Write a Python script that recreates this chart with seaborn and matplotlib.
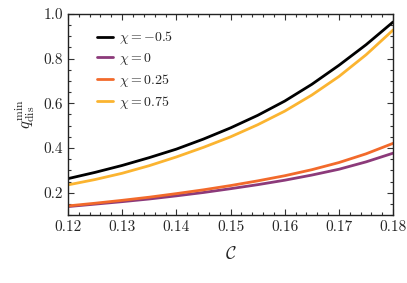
import numpy as np
import pandas as pd
import matplotlib
matplotlib.use("Agg")
import matplotlib.pyplot as plt
import seaborn as sns
from matplotlib.ticker import MultipleLocator

C_vals = [0.12, 0.125, 0.13, 0.135, 0.14, 0.145, 0.15, 0.155, 0.16, 0.165, 0.17, 0.175, 0.18]
q_chi_m05 = [0.263, 0.291, 0.322, 0.357, 0.395, 0.440, 0.490, 0.546, 0.610, 0.685, 0.770, 0.862, 0.964]
q_chi_0 = [0.138, 0.149, 0.160, 0.172, 0.186, 0.201, 0.218, 0.236, 0.256, 0.279, 0.305, 0.338, 0.377]
q_chi_025 = [0.141, 0.153, 0.166, 0.180, 0.196, 0.213, 0.232, 0.253, 0.276, 0.303, 0.335, 0.374, 0.421]
q_chi_075 = [0.235, 0.259, 0.287, 0.321, 0.360, 0.403, 0.450, 0.504, 0.565, 0.637, 0.720, 0.817, 0.928]
labels = [r"$\chi = -0.5$", r"$\chi = 0$", r"$\chi = 0.25$", r"$\chi = 0.75$"]
colors = ["#000000", "#8c3a7a", "#f26a2b", "#fbb430"]

series = [q_chi_m05, q_chi_0, q_chi_025, q_chi_075]
df = pd.concat([pd.DataFrame({"C": C_vals, "q": s, "chi": lab}) for s, lab in zip(series, labels)])

sns.set_theme(style="ticks")
plt.rcParams["font.family"] = ["cmr10", "DejaVu Serif"]
plt.rcParams["mathtext.fontset"] = "cm"
plt.rcParams["axes.formatter.use_mathtext"] = True

fig = plt.figure(figsize=(4.07, 2.83), dpi=100)
ax = fig.add_axes([0.167, 0.240, 0.799, 0.711])
sns.lineplot(data=df, x="C", y="q", hue="chi", palette=colors, hue_order=labels,
             linewidth=2, ax=ax, sort=False)

ax.set_xlim(0.12, 0.18)
ax.set_ylim(0.1, 1.0)
ax.xaxis.set_major_locator(MultipleLocator(0.01))
ax.xaxis.set_minor_locator(MultipleLocator(0.002))
ax.yaxis.set_major_locator(MultipleLocator(0.2))
ax.yaxis.set_minor_locator(MultipleLocator(0.05))
ax.tick_params(which="both", direction="in", top=True, right=True, labelsize=11, color="#333333")
ax.tick_params(which="major", length=4, width=0.8)
ax.tick_params(which="minor", length=2.2, width=0.8)
ax.set_xticklabels([f"{v:.2f}" for v in ax.get_xticks()])
ax.set_yticklabels([f"{v:.1f}" for v in ax.get_yticks()])
for sp in ax.spines.values():
    sp.set_linewidth(1.0)
    sp.set_color("#222222")

ax.set_xlabel(r"$\mathcal{C}$", fontsize=13, labelpad=8)
ax.set_ylabel(r"$q_{\rm dis}^{\rm min}$", fontsize=12, labelpad=5)

ax.legend(frameon=False, loc="upper left", fontsize=10, handlelength=1.2,
          handletextpad=0.4, labelspacing=0.35, bbox_to_anchor=(0.05, 0.985))

fig.savefig("out.png", dpi=100)
